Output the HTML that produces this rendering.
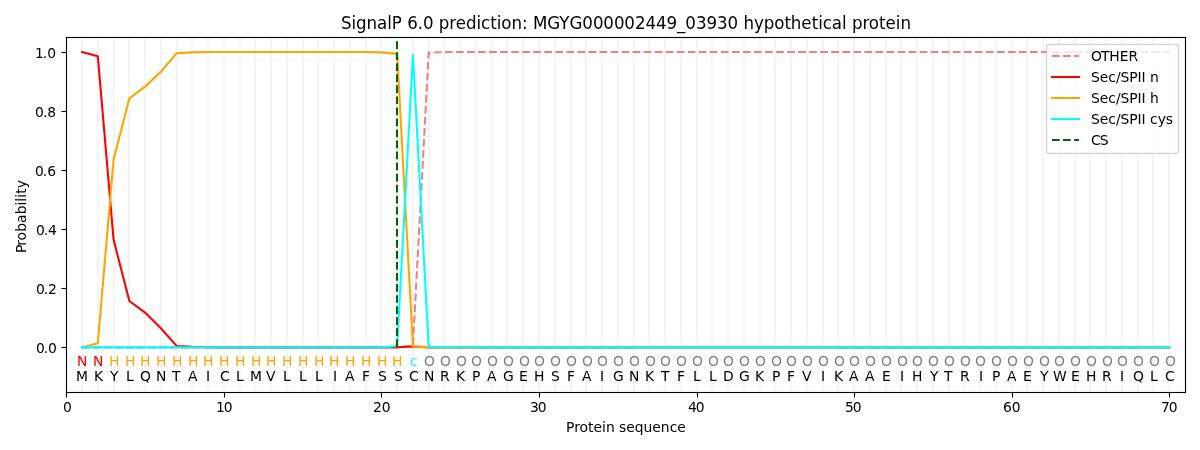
<!DOCTYPE html>
<html lang="en"><head><meta charset="utf-8"><title>SignalP 6.0 prediction</title>
<style>html,body{margin:0;padding:0;background:#fff}svg{display:block}text{font-family:"DejaVu Sans", "Liberation Sans", sans-serif;font-size:13.889px}.t{text-anchor:middle}.g{stroke:#f5f5f5;stroke-width:2.25}.k{stroke:#000;stroke-width:1.11}.ln{fill:none;stroke-width:2.08;stroke-linejoin:round;stroke-linecap:square}</style>
</head><body>
<svg width="1200" height="450" viewBox="0 0 1200 450">
<rect width="1200" height="450" fill="#fff"/>
<clipPath id="ax"><rect x="66.3" y="37.3" width="1118.7" height="354.4"/></clipPath>
<g class="g" clip-path="url(#ax)">
<line x1="82" y1="37.3" x2="82" y2="391.7"/>
<line x1="98" y1="37.3" x2="98" y2="391.7"/>
<line x1="114" y1="37.3" x2="114" y2="391.7"/>
<line x1="129" y1="37.3" x2="129" y2="391.7"/>
<line x1="145" y1="37.3" x2="145" y2="391.7"/>
<line x1="161" y1="37.3" x2="161" y2="391.7"/>
<line x1="177" y1="37.3" x2="177" y2="391.7"/>
<line x1="192" y1="37.3" x2="192" y2="391.7"/>
<line x1="208" y1="37.3" x2="208" y2="391.7"/>
<line x1="224" y1="37.3" x2="224" y2="391.7"/>
<line x1="240" y1="37.3" x2="240" y2="391.7"/>
<line x1="255" y1="37.3" x2="255" y2="391.7"/>
<line x1="271" y1="37.3" x2="271" y2="391.7"/>
<line x1="287" y1="37.3" x2="287" y2="391.7"/>
<line x1="303" y1="37.3" x2="303" y2="391.7"/>
<line x1="318" y1="37.3" x2="318" y2="391.7"/>
<line x1="334" y1="37.3" x2="334" y2="391.7"/>
<line x1="350" y1="37.3" x2="350" y2="391.7"/>
<line x1="366" y1="37.3" x2="366" y2="391.7"/>
<line x1="381" y1="37.3" x2="381" y2="391.7"/>
<line x1="397" y1="37.3" x2="397" y2="391.7"/>
<line x1="413" y1="37.3" x2="413" y2="391.7"/>
<line x1="429" y1="37.3" x2="429" y2="391.7"/>
<line x1="444" y1="37.3" x2="444" y2="391.7"/>
<line x1="460" y1="37.3" x2="460" y2="391.7"/>
<line x1="476" y1="37.3" x2="476" y2="391.7"/>
<line x1="492" y1="37.3" x2="492" y2="391.7"/>
<line x1="507" y1="37.3" x2="507" y2="391.7"/>
<line x1="523" y1="37.3" x2="523" y2="391.7"/>
<line x1="539" y1="37.3" x2="539" y2="391.7"/>
<line x1="555" y1="37.3" x2="555" y2="391.7"/>
<line x1="571" y1="37.3" x2="571" y2="391.7"/>
<line x1="586" y1="37.3" x2="586" y2="391.7"/>
<line x1="602" y1="37.3" x2="602" y2="391.7"/>
<line x1="618" y1="37.3" x2="618" y2="391.7"/>
<line x1="634" y1="37.3" x2="634" y2="391.7"/>
<line x1="649" y1="37.3" x2="649" y2="391.7"/>
<line x1="665" y1="37.3" x2="665" y2="391.7"/>
<line x1="681" y1="37.3" x2="681" y2="391.7"/>
<line x1="697" y1="37.3" x2="697" y2="391.7"/>
<line x1="712" y1="37.3" x2="712" y2="391.7"/>
<line x1="728" y1="37.3" x2="728" y2="391.7"/>
<line x1="744" y1="37.3" x2="744" y2="391.7"/>
<line x1="760" y1="37.3" x2="760" y2="391.7"/>
<line x1="775" y1="37.3" x2="775" y2="391.7"/>
<line x1="791" y1="37.3" x2="791" y2="391.7"/>
<line x1="807" y1="37.3" x2="807" y2="391.7"/>
<line x1="823" y1="37.3" x2="823" y2="391.7"/>
<line x1="838" y1="37.3" x2="838" y2="391.7"/>
<line x1="854" y1="37.3" x2="854" y2="391.7"/>
<line x1="870" y1="37.3" x2="870" y2="391.7"/>
<line x1="886" y1="37.3" x2="886" y2="391.7"/>
<line x1="901" y1="37.3" x2="901" y2="391.7"/>
<line x1="917" y1="37.3" x2="917" y2="391.7"/>
<line x1="933" y1="37.3" x2="933" y2="391.7"/>
<line x1="949" y1="37.3" x2="949" y2="391.7"/>
<line x1="964" y1="37.3" x2="964" y2="391.7"/>
<line x1="980" y1="37.3" x2="980" y2="391.7"/>
<line x1="996" y1="37.3" x2="996" y2="391.7"/>
<line x1="1012" y1="37.3" x2="1012" y2="391.7"/>
<line x1="1027" y1="37.3" x2="1027" y2="391.7"/>
<line x1="1043" y1="37.3" x2="1043" y2="391.7"/>
<line x1="1059" y1="37.3" x2="1059" y2="391.7"/>
<line x1="1075" y1="37.3" x2="1075" y2="391.7"/>
<line x1="1090" y1="37.3" x2="1090" y2="391.7"/>
<line x1="1106" y1="37.3" x2="1106" y2="391.7"/>
<line x1="1122" y1="37.3" x2="1122" y2="391.7"/>
<line x1="1138" y1="37.3" x2="1138" y2="391.7"/>
<line x1="1153" y1="37.3" x2="1153" y2="391.7"/>
<line x1="1169" y1="37.3" x2="1169" y2="391.7"/>
</g>
<g clip-path="url(#ax)">
<polyline class="ln" style="stroke-linecap:butt" stroke="#f08080" stroke-dasharray="7.71 3.33" points="82.06,347.4 97.81,347.4 113.57,347.4 129.33,347.4 145.08,347.4 160.84,347.4 176.59,347.4 192.35,347.4 208.11,347.4 223.86,347.4 239.62,347.4 255.38,347.4 271.13,347.4 286.89,347.4 302.65,347.4 318.4,347.4 334.16,347.4 349.91,347.4 365.67,347.4 381.43,347.4 397.18,347.4 412.94,345.33 428.7,52.66 444.45,52.07 460.21,52.07 475.96,52.07 491.72,52.07 507.48,52.07 523.23,52.07 538.99,52.07 554.75,52.07 570.5,52.07 586.26,52.07 602.02,52.07 617.77,52.07 633.53,52.07 649.28,52.07 665.04,52.07 680.8,52.07 696.55,52.07 712.31,52.07 728.07,52.07 743.82,52.07 759.58,52.07 775.34,52.07 791.09,52.07 806.85,52.07 822.6,52.07 838.36,52.07 854.12,52.07 869.87,52.07 885.63,52.07 901.39,52.07 917.14,52.07 932.9,52.07 948.65,52.07 964.41,52.07 980.17,52.07 995.92,52.07 1011.68,52.07 1027.44,52.07 1043.19,52.07 1058.95,52.07 1074.71,52.07 1090.46,52.07 1106.22,52.07 1121.97,52.07 1137.73,52.07 1153.49,52.07 1169.24,52.07"/>
<polyline class="ln" stroke="#ff0000" points="82.06,52.07 97.81,56.2 113.57,239.6 129.33,301.03 145.08,312.55 160.84,328.2 176.59,345.92 192.35,346.81 208.11,347.25 223.86,347.4 239.62,347.4 255.38,347.4 271.13,347.4 286.89,347.4 302.65,347.4 318.4,347.4 334.16,347.4 349.91,347.4 365.67,347.4 381.43,347.4 397.18,347.25 412.94,346.51 428.7,347.4 444.45,347.4 460.21,347.4 475.96,347.4 491.72,347.4 507.48,347.4 523.23,347.4 538.99,347.4 554.75,347.4 570.5,347.4 586.26,347.4 602.02,347.4 617.77,347.4 633.53,347.4 649.28,347.4 665.04,347.4 680.8,347.4 696.55,347.4 712.31,347.4 728.07,347.4 743.82,347.4 759.58,347.4 775.34,347.4 791.09,347.4 806.85,347.4 822.6,347.4 838.36,347.4 854.12,347.4 869.87,347.4 885.63,347.4 901.39,347.4 917.14,347.4 932.9,347.4 948.65,347.4 964.41,347.4 980.17,347.4 995.92,347.4 1011.68,347.4 1027.44,347.4 1043.19,347.4 1058.95,347.4 1074.71,347.4 1090.46,347.4 1106.22,347.4 1121.97,347.4 1137.73,347.4 1153.49,347.4 1169.24,347.4"/>
<polyline class="ln" stroke="#ffa500" points="82.06,347.4 97.81,343.27 113.57,159.57 129.33,98.43 145.08,86.62 160.84,71.85 176.59,53.25 192.35,52.36 208.11,52.07 223.86,52.07 239.62,52.07 255.38,52.07 271.13,52.07 286.89,52.07 302.65,52.07 318.4,52.07 334.16,52.07 349.91,52.07 365.67,52.07 381.43,52.36 397.18,53.84 412.94,346.37 428.7,347.1 444.45,347.4 460.21,347.4 475.96,347.4 491.72,347.4 507.48,347.4 523.23,347.4 538.99,347.4 554.75,347.4 570.5,347.4 586.26,347.4 602.02,347.4 617.77,347.4 633.53,347.4 649.28,347.4 665.04,347.4 680.8,347.4 696.55,347.4 712.31,347.4 728.07,347.4 743.82,347.4 759.58,347.4 775.34,347.4 791.09,347.4 806.85,347.4 822.6,347.4 838.36,347.4 854.12,347.4 869.87,347.4 885.63,347.4 901.39,347.4 917.14,347.4 932.9,347.4 948.65,347.4 964.41,347.4 980.17,347.4 995.92,347.4 1011.68,347.4 1027.44,347.4 1043.19,347.4 1058.95,347.4 1074.71,347.4 1090.46,347.4 1106.22,347.4 1121.97,347.4 1137.73,347.4 1153.49,347.4 1169.24,347.4"/>
<polyline class="ln" stroke="#00ffff" points="82.06,347.4 97.81,347.4 113.57,347.4 129.33,347.4 145.08,347.4 160.84,347.4 176.59,347.4 192.35,347.4 208.11,347.4 223.86,347.4 239.62,347.4 255.38,347.4 271.13,347.4 286.89,347.4 302.65,347.4 318.4,347.4 334.16,347.4 349.91,347.4 365.67,347.4 381.43,347.4 397.18,345.92 412.94,55.02 428.7,346.96 444.45,347.1 460.21,347.25 475.96,347.4 491.72,347.4 507.48,347.4 523.23,347.4 538.99,347.4 554.75,347.4 570.5,347.4 586.26,347.4 602.02,347.4 617.77,347.4 633.53,347.4 649.28,347.4 665.04,347.4 680.8,347.4 696.55,347.4 712.31,347.4 728.07,347.4 743.82,347.4 759.58,347.4 775.34,347.4 791.09,347.4 806.85,347.4 822.6,347.4 838.36,347.4 854.12,347.4 869.87,347.4 885.63,347.4 901.39,347.4 917.14,347.4 932.9,347.4 948.65,347.4 964.41,347.4 980.17,347.4 995.92,347.4 1011.68,347.4 1027.44,347.4 1043.19,347.4 1058.95,347.4 1074.71,347.4 1090.46,347.4 1106.22,347.4 1121.97,347.4 1137.73,347.4 1153.49,347.4 1169.24,347.4"/>
<line class="ln" style="stroke-linecap:butt" stroke="#006400" stroke-dasharray="7.71 3.33" x1="397" y1="347" x2="397" y2="32.3"/>
</g>
<g fill="#000">
<rect x="65.944" y="36.944" width="1.111" height="356.111"/>
<rect x="1184.944" y="36.944" width="1.111" height="356.111"/>
<rect x="65.944" y="391.944" width="1120.111" height="1.111"/>
<rect x="65.944" y="36.944" width="1120.111" height="1.111"/>
</g>
<g class="k">
<line x1="66.5" y1="392.5" x2="66.5" y2="397.5"/>
<line x1="224.5" y1="392.5" x2="224.5" y2="397.5"/>
<line x1="381.5" y1="392.5" x2="381.5" y2="397.5"/>
<line x1="539.5" y1="392.5" x2="539.5" y2="397.5"/>
<line x1="697.5" y1="392.5" x2="697.5" y2="397.5"/>
<line x1="854.5" y1="392.5" x2="854.5" y2="397.5"/>
<line x1="1012.5" y1="392.5" x2="1012.5" y2="397.5"/>
<line x1="1169.5" y1="392.5" x2="1169.5" y2="397.5"/>
<line x1="61.5" y1="347.5" x2="66.5" y2="347.5"/>
<line x1="61.5" y1="288.5" x2="66.5" y2="288.5"/>
<line x1="61.5" y1="229.5" x2="66.5" y2="229.5"/>
<line x1="61.5" y1="170.5" x2="66.5" y2="170.5"/>
<line x1="61.5" y1="111.5" x2="66.5" y2="111.5"/>
<line x1="61.5" y1="52.5" x2="66.5" y2="52.5"/>
</g>
<text class="t" x="67.31" y="412">0</text>
<text x="215.89 223.7" y="412">10</text>
<text x="372.9 381.71" y="412">20</text>
<text x="529.89 537.75" y="412">30</text>
<text x="687.91 695.67" y="412">40</text>
<text x="844.91 852.67" y="412">50</text>
<text x="1002.88 1011.69" y="412">60</text>
<text x="1160.9 1168.76" y="412">70</text>
<text x="35.93 43.64 47.97" y="353">0.0</text>
<text x="35.93 43.64 47.92" y="294">0.2</text>
<text x="35.88 43.84 47.92" y="235">0.4</text>
<text x="34.93 42.64 47.17" y="176">0.6</text>
<text x="34.92 42.93 47.16" y="117">0.8</text>
<text x="34.92 42.78 47.16" y="58">1.0</text>
<g class="t">
<text x="82.11" y="366" fill="#ff0000">N</text>
<text x="98.09" y="366" fill="#ff0000">N</text>
<text x="114.13" y="366" fill="#ffa500">H</text>
<text x="130.11" y="366" fill="#ffa500">H</text>
<text x="145.14" y="366" fill="#ffa500">H</text>
<text x="161.11" y="366" fill="#ffa500">H</text>
<text x="177.1" y="366" fill="#ffa500">H</text>
<text x="193.14" y="366" fill="#ffa500">H</text>
<text x="208.13" y="366" fill="#ffa500">H</text>
<text x="224.1" y="366" fill="#ffa500">H</text>
<text x="240.11" y="366" fill="#ffa500">H</text>
<text x="256.12" y="366" fill="#ffa500">H</text>
<text x="271.1" y="366" fill="#ffa500">H</text>
<text x="287.13" y="366" fill="#ffa500">H</text>
<text x="303.14" y="366" fill="#ffa500">H</text>
<text x="319.14" y="366" fill="#ffa500">H</text>
<text x="334.1" y="366" fill="#ffa500">H</text>
<text x="350.1" y="366" fill="#ffa500">H</text>
<text x="366.11" y="366" fill="#ffa500">H</text>
<text x="382.12" y="366" fill="#ffa500">H</text>
<text x="397.12" y="366" fill="#ffa500">H</text>
<text x="413.7" y="366" fill="#00ffff">c</text>
<text x="429.37" y="366" fill="#808080">O</text>
<text x="445.38" y="366" fill="#808080">O</text>
<text x="461.35" y="366" fill="#808080">O</text>
<text x="476.38" y="366" fill="#808080">O</text>
<text x="492.34" y="366" fill="#808080">O</text>
<text x="508.36" y="366" fill="#808080">O</text>
<text x="524.37" y="366" fill="#808080">O</text>
<text x="539.36" y="366" fill="#808080">O</text>
<text x="555.38" y="366" fill="#808080">O</text>
<text x="571.34" y="366" fill="#808080">O</text>
<text x="587.35" y="366" fill="#808080">O</text>
<text x="602.35" y="366" fill="#808080">O</text>
<text x="618.35" y="366" fill="#808080">O</text>
<text x="634.37" y="366" fill="#808080">O</text>
<text x="650.37" y="366" fill="#808080">O</text>
<text x="665.37" y="366" fill="#808080">O</text>
<text x="681.34" y="366" fill="#808080">O</text>
<text x="697.34" y="366" fill="#808080">O</text>
<text x="713.35" y="366" fill="#808080">O</text>
<text x="728.36" y="366" fill="#808080">O</text>
<text x="744.36" y="366" fill="#808080">O</text>
<text x="760.37" y="366" fill="#808080">O</text>
<text x="776.37" y="366" fill="#808080">O</text>
<text x="791.37" y="366" fill="#808080">O</text>
<text x="807.37" y="366" fill="#808080">O</text>
<text x="823.35" y="366" fill="#808080">O</text>
<text x="839.34" y="366" fill="#808080">O</text>
<text x="854.35" y="366" fill="#808080">O</text>
<text x="870.34" y="366" fill="#808080">O</text>
<text x="886.38" y="366" fill="#808080">O</text>
<text x="902.37" y="366" fill="#808080">O</text>
<text x="917.37" y="366" fill="#808080">O</text>
<text x="933.37" y="366" fill="#808080">O</text>
<text x="949.36" y="366" fill="#808080">O</text>
<text x="965.34" y="366" fill="#808080">O</text>
<text x="980.38" y="366" fill="#808080">O</text>
<text x="996.34" y="366" fill="#808080">O</text>
<text x="1012.34" y="366" fill="#808080">O</text>
<text x="1028.37" y="366" fill="#808080">O</text>
<text x="1044.38" y="366" fill="#808080">O</text>
<text x="1059.37" y="366" fill="#808080">O</text>
<text x="1075.38" y="366" fill="#808080">O</text>
<text x="1091.34" y="366" fill="#808080">O</text>
<text x="1107.36" y="366" fill="#808080">O</text>
<text x="1122.34" y="366" fill="#808080">O</text>
<text x="1138.35" y="366" fill="#808080">O</text>
<text x="1154.37" y="366" fill="#808080">O</text>
<text x="1170.38" y="366" fill="#808080">O</text>
<text x="81.87" y="381">M</text>
<text x="98.45" y="381">K</text>
<text x="114.14" y="381">Y</text>
<text x="129.79" y="381">L</text>
<text x="145.36" y="381">Q</text>
<text x="161.1" y="381">N</text>
<text x="176.13" y="381">T</text>
<text x="192.65" y="381">A</text>
<text x="207.95" y="381">I</text>
<text x="224.75" y="381">C</text>
<text x="239.75" y="381">L</text>
<text x="255.87" y="381">M</text>
<text x="270.66" y="381">V</text>
<text x="286.75" y="381">L</text>
<text x="302.78" y="381">L</text>
<text x="318.76" y="381">L</text>
<text x="334.95" y="381">I</text>
<text x="349.67" y="381">A</text>
<text x="365.89" y="381">F</text>
<text x="382.31" y="381">S</text>
<text x="398.31" y="381">S</text>
<text x="413.73" y="381">C</text>
<text x="429.12" y="381">N</text>
<text x="444.72" y="381">R</text>
<text x="460.47" y="381">K</text>
<text x="476.08" y="381">P</text>
<text x="491.65" y="381">A</text>
<text x="508.26" y="381">G</text>
<text x="523.27" y="381">E</text>
<text x="539.11" y="381">H</text>
<text x="555.3" y="381">S</text>
<text x="570.87" y="381">F</text>
<text x="586.66" y="381">A</text>
<text x="601.96" y="381">I</text>
<text x="618.3" y="381">G</text>
<text x="634.1" y="381">N</text>
<text x="649.46" y="381">K</text>
<text x="665.15" y="381">T</text>
<text x="680.87" y="381">F</text>
<text x="696.75" y="381">L</text>
<text x="712.77" y="381">L</text>
<text x="728.26" y="381">D</text>
<text x="744.3" y="381">G</text>
<text x="759.43" y="381">K</text>
<text x="776.11" y="381">P</text>
<text x="790.89" y="381">F</text>
<text x="806.65" y="381">V</text>
<text x="822.93" y="381">I</text>
<text x="838.44" y="381">K</text>
<text x="853.66" y="381">A</text>
<text x="869.63" y="381">A</text>
<text x="886.31" y="381">E</text>
<text x="901.97" y="381">I</text>
<text x="917.12" y="381">H</text>
<text x="934.14" y="381">Y</text>
<text x="948.14" y="381">T</text>
<text x="964.73" y="381">R</text>
<text x="980.96" y="381">I</text>
<text x="996.09" y="381">P</text>
<text x="1011.66" y="381">A</text>
<text x="1027.29" y="381">E</text>
<text x="1044.16" y="381">Y</text>
<text x="1059.75" y="381">W</text>
<text x="1075.29" y="381">E</text>
<text x="1091.1" y="381">H</text>
<text x="1106.75" y="381">R</text>
<text x="1121.93" y="381">I</text>
<text x="1138.35" y="381">Q</text>
<text x="1153.78" y="381">L</text>
<text x="1169.77" y="381">C</text>
</g>
<text x="565.89 574.25 579.56 587.89 593.58 601.92 605.92 614.68 618.94 626.16 634.69 643.4 652.2 660.83 669.63 677.15" y="432">Protein sequence</text>
<text x="-36.1 -28.64 -23.6 -14.67 -6.03 2.67 11.41 15.15 19.16 23.2 28.68" transform="translate(25.5 217) rotate(-90)">Probability</text>
<text x="340.93 351.51 355.91 366.44 376.98 387.15 391.75 401.98 407.17 417.73 422.9 433.62 438.64 449.17 455.68 465.89 476.43 481.03 490.16 496.66 501.24 511.41 521.93 527.53 532.88 547.16 559.25 569.41 582.23 592.99 603.15 613.93 624.24 634.95 645.43 655.89 666.45 676.91 685.21 696.09 706.4 717.11 727.47 738.31 743.41 753.93 763.75 774.25 784.4 790.7 801.23 811.85 818.14 822.84 831.67 841.89 846.65 851.91 862.39 868.75 878.9 885.41 895.67 900.41" style="font-size:16.667px" transform="translate(0 29) scale(1 1.07)">SignalP 6.0 prediction: MGYG000002449_03930 hypothetical protein</text>
<path d="M1049.28 153.5L1175.72 153.5Q1178.5 153.5 1178.5 150.72L1178.5 47.28Q1178.5 44.5 1175.72 44.5L1049.28 44.5Q1046.5 44.5 1046.5 47.28L1046.5 150.72Q1046.5 153.5 1049.28 153.5Z" fill="#fff" fill-opacity="0.8" stroke="#ccc" stroke-opacity="0.8" stroke-width="1.39"/>
<line x1="1052" y1="56" x2="1079" y2="56" stroke="#f08080" stroke-width="2.08" stroke-dasharray="7.71 3.33"/>
<text x="1090.89 1101.05 1109.23 1119.67 1128.43" y="61">OTHER</text>
<line x1="1052" y1="77" x2="1079" y2="77" stroke="#ff0000" stroke-width="2.08" stroke-linecap="square"/>
<text x="1090.9 1099.7 1108.29 1115.92 1120.39 1129.3 1137.41 1141.41 1145.87 1149.91" y="82">Sec/SPII n</text>
<line x1="1052" y1="98" x2="1079" y2="98" stroke="#ffa500" stroke-width="2.08" stroke-linecap="square"/>
<text x="1090.88 1099.68 1108.27 1115.9 1120.47 1129.23 1137.39 1141.39 1145.85 1149.89" y="103">Sec/SPII h</text>
<line x1="1052" y1="119" x2="1079" y2="119" stroke="#00ffff" stroke-width="2.08" stroke-linecap="square"/>
<text x="1090.89 1099.69 1108.28 1115.91 1120.38 1129.29 1137.4 1141.4 1145.86 1150.05 1157.67 1165.68" y="124">Sec/SPII cys</text>
<line x1="1052" y1="140" x2="1079" y2="140" stroke="#006400" stroke-width="2.08" stroke-dasharray="7.71 3.33"/>
<text x="1090.9 1099.79" y="145">CS</text>
</svg></body></html>
